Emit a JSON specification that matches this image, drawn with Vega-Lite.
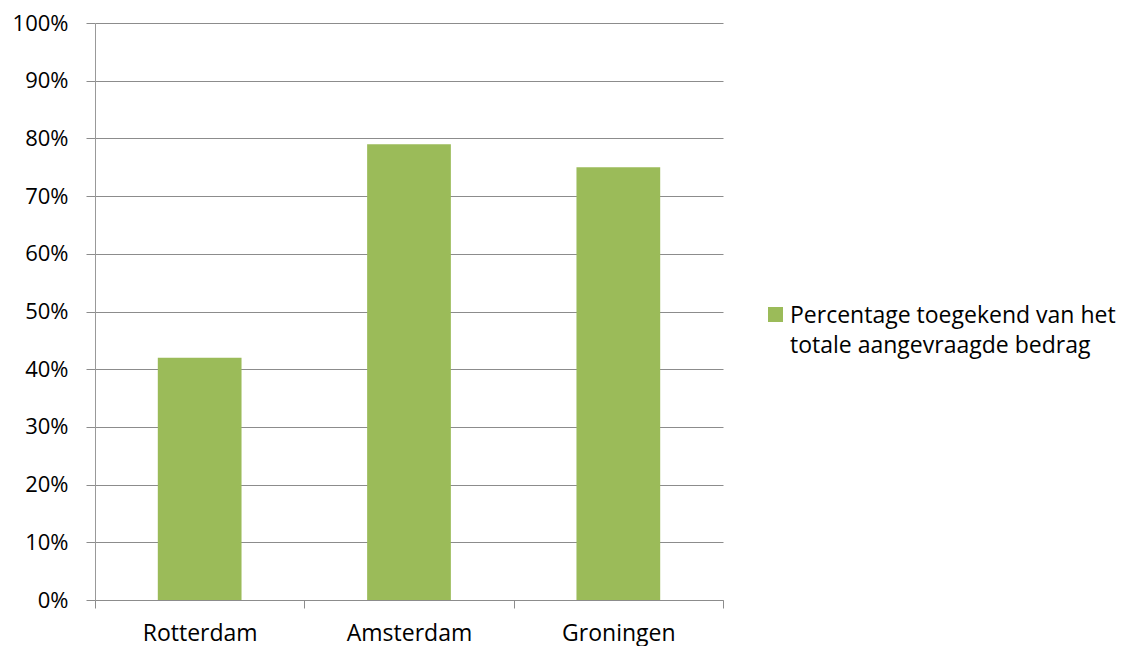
{
  "$schema": "https://vega.github.io/schema/vega-lite/v6.json",
  "width": 628,
  "height": 577,
  "autosize": {"type": "none"},
  "padding": {"left": 95, "top": 23, "right": 399, "bottom": 46},
  "background": "white",
  "config": {"font": "Open Sans", "view": {"stroke": null}, "style": {"guide-label": {"lineHeight": 30, "dy": -10}}},
  "data": {
    "values": [
      {"stad": "Rotterdam", "pct": 0.42, "serie": "Percentage toegekend van het|totale aangevraagde bedrag"},
      {"stad": "Amsterdam", "pct": 0.79, "serie": "Percentage toegekend van het|totale aangevraagde bedrag"},
      {"stad": "Groningen", "pct": 0.75, "serie": "Percentage toegekend van het|totale aangevraagde bedrag"}
    ]
  },
  "mark": {"type": "bar", "width": {"band": 0.4}},
  "encoding": {
    "x": {
      "field": "stad",
      "type": "nominal",
      "sort": null,
      "scale": {"paddingInner": 0, "paddingOuter": 0},
      "axis": {
        "title": null,
        "labelAngle": 0,
        "tickBand": "extent",
        "tickColor": "#8c8c8c",
        "tickSize": 8,
        "domainColor": "#8c8c8c",
        "labelFontSize": 23,
        "labelColor": "#000000",
        "labelPadding": 24,
        "grid": false
      }
    },
    "y": {
      "field": "pct",
      "type": "quantitative",
      "scale": {"domain": [0, 1], "nice": false},
      "axis": {
        "title": null,
        "format": ".0%",
        "values": [0, 0.1, 0.2, 0.3, 0.4, 0.5, 0.6, 0.7, 0.8, 0.9, 1],
        "grid": true,
        "gridColor": "#8c8c8c",
        "gridOpacity": 1,
        "tickColor": "#8c8c8c",
        "tickSize": 9,
        "domainColor": "#999999",
        "labelFontSize": 22,
        "labelColor": "#000000",
        "labelPadding": 18,
        "labelOffset": 10
      }
    },
    "color": {
      "field": "serie",
      "type": "nominal",
      "scale": {"range": ["#9BBB59"]},
      "legend": {
        "title": null,
        "orient": "none",
        "legendX": 669,
        "legendY": 280,
        "symbolType": "square",
        "symbolSize": 225,
        "symbolStrokeWidth": 0,
        "labelFontSize": 23,
        "labelColor": "#000000",
        "labelLimit": 400,
        "labelOffset": 3,
        "labelExpr": "split(datum.label, '|')",
        "labelBaseline": "top"
      }
    }
  }
}
